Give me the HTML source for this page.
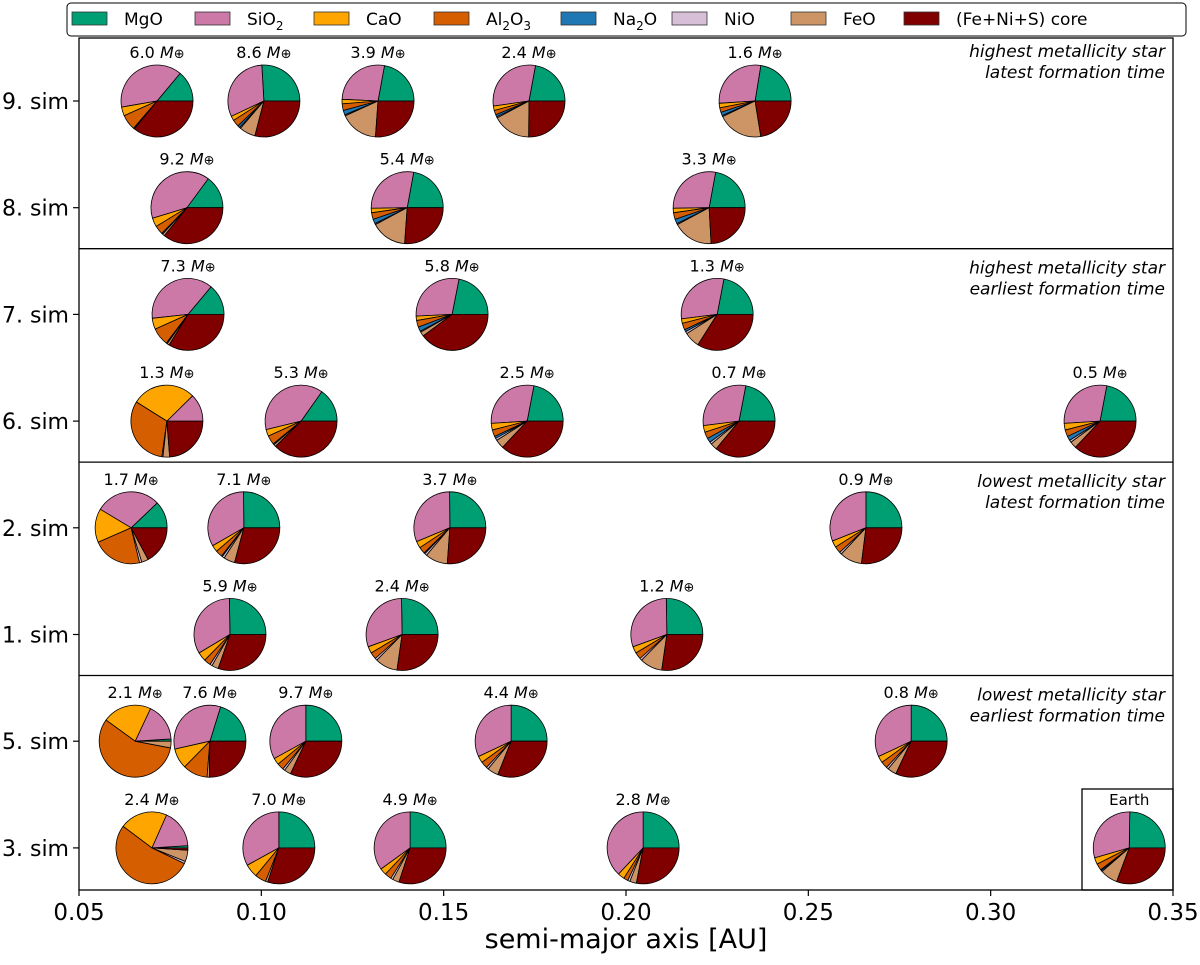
<!DOCTYPE html>
<html><head><meta charset="utf-8"><style>
body{margin:0;background:#fff;}
svg{font-family:"DejaVu Sans","Liberation Sans",sans-serif;}
</style></head><body>
<svg id="chart" width="1200" height="960" viewBox="0 0 1200 960" xmlns="http://www.w3.org/2000/svg">
<g id="plot"></g>
</svg>
<script>
const NS="http://www.w3.org/2000/svg";
const species=["MgO","SiO2","CaO","Al2O3","Na2O","NiO","FeO","core"];
const colors=["#009e73","#cc79a7","#ffa500","#d55e00","#1f77b4","#d8bfd8","#cd9466","#800000"];
const rowLabels=["9. sim","8. sim","7. sim","6. sim","2. sim","1. sim","5. sim","3. sim"];
const xTicks=[0.05,0.10,0.15,0.20,0.25,0.30,0.35];
const annotations=[["highest metallicity star","latest formation time"],["highest metallicity star","earliest formation time"],["lowest metallicity star","latest formation time"],["lowest metallicity star","earliest formation time"]];
const pRow=[0,0,0,0,0, 1,1,1, 2,2,2, 3,3,3,3,3, 4,4,4,4, 5,5,5, 6,6,6,6,6, 7,7,7,7];
const pA=[0.0714,0.1007,0.132,0.1734,0.2354, 0.0796,0.140,0.2228, 0.0799,0.1523,0.225, 0.0741,0.1109,0.1729,0.231,0.330, 0.0643,0.0952,0.1517,0.2658, 0.0914,0.1386,0.2112, 0.0654,0.0859,0.1122,0.1685,0.2782, 0.070,0.1048,0.1408,0.2047];
const pMass=["6.0","8.6","3.9","2.4","1.6","9.2","5.4","3.3","7.3","5.8","1.3","1.3","5.3","2.5","0.7","0.5","1.7","7.1","3.7","0.9","5.9","2.4","1.2","2.1","7.6","9.7","4.4","0.8","2.4","7.0","4.9","2.8"];
const pFrac=[
[.14,.39,.04,.07,.005,0,0,.36],
[.25,.30,.02,.03,.01,.005,.07,.28],
[.22,.27,.02,.03,.02,.005,.17,.26],
[.22,.30,.02,.02,.01,.005,.17,.25],
[.22,.28,.02,.02,.015,.005,.20,.22],
[.15,.40,.04,.04,.005,0,.01,.36],
[.22,.28,.02,.03,.02,.005,.16,.26],
[.22,.28,.02,.03,.02,.005,.18,.24],
[.14,.38,.05,.08,.005,0,.01,.34],
[.22,.29,.02,.03,.02,.005,.02,.40],
[.22,.30,.02,.03,.01,.01,.07,.34],
[0,.125,.29,.32,0,.005,.03,.24],
[.15,.38,.03,.04,.005,0,.01,.37],
[.22,.29,.03,.03,.01,.01,.04,.37],
[.22,.30,.03,.03,.02,.01,.03,.36],
[.22,.29,.03,.03,.02,.01,.03,.37],
[.12,.29,.15,.22,0,.01,.03,.17],
[.25,.33,.03,.03,.005,.01,.05,.29],
[.25,.31,.03,.03,.005,.01,.10,.26],
[.25,.31,.03,.03,0,.01,.10,.27],
[.25,.33,.04,.03,0,.01,.03,.30],
[.25,.30,.03,.03,0,.01,.10,.27],
[.25,.30,.03,.03,0,.01,.10,.27],
[.01,.17,.22,.57,0,0,.03,0],
[.20,.33,.09,.11,0,0,.01,.25],
[.25,.33,.03,.03,0,.01,.03,.32],
[.25,.32,.03,.03,0,.01,.05,.31],
[.25,.32,.03,.03,0,.01,.04,.32],
[.01,.17,.21,.52,0,.01,.05,.01],
[.25,.33,.06,.05,0,0,.01,.30],
[.25,.35,.03,.03,0,.01,.03,.30],
[.25,.38,.03,.02,0,.01,.03,.28]];
const earthA=0.338, earthFrac=[.25,.30,.03,.03,.005,.005,.08,.31];

const L=79,R=1173,T=38,B=890,R0=36;
const xs=a=>L+(a-0.05)/0.3*(R-L);
const ys=i=>101+i*106.7;
const g=document.getElementById('plot');
function el(tag,attrs,parent){const e=document.createElementNS(NS,tag);for(const k in attrs)e.setAttribute(k,attrs[k]);(parent||g).appendChild(e);return e;}

let fr=el('rect',{x:L,y:T,width:R-L,height:B-T,fill:'none',stroke:'#000','stroke-width':1.3});


const sepY=k=>k===0?T:ys(2*k-1)+41;
[1,2,3].forEach(k=>{
 let y=sepY(k);
 let ln=el('line',{x1:L,x2:R,y1:y,y2:y,stroke:'#000','stroke-width':1.3});
 
 
});
xTicks.forEach(t=>{
 let x=xs(t);
 let tk=el('line',{x1:x,x2:x,y1:B,y2:B+6,stroke:'#000','stroke-width':1.2});
 
 
 let tx=el('text',{x:x,y:B+30,'font-size':23,'text-anchor':'middle'});
 tx.textContent=t.toFixed(2);
 
 
});
let xl=el('text',{x:(L+R)/2,y:948,'font-size':27,'text-anchor':'middle'});
xl.textContent='semi-major axis [AU]';


rowLabels.forEach((s,i)=>{
 let y=ys(i);
 let tk=el('line',{x1:L-6,x2:L,y1:y,y2:y,stroke:'#000','stroke-width':1.2});
 
 
 let tx=el('text',{x:L-10,y:y+8,'font-size':22,'text-anchor':'end'});
 tx.textContent=s;
 
 
});
annotations.forEach((a,k)=>{
 let y0=k===0?57:sepY(k)+25;
 a.forEach((line,j)=>{
  let tx=el('text',{x:R-8,y:y0+j*21,'font-size':17,'font-style':'italic','text-anchor':'end'});
  tx.textContent=line;
  
  
 });
});
function pie(cx,cy,frac,name){
 const grp=el('g',{});
 
 
 const tot=frac.reduce((s,v)=>s+v,0);
 let ang=0;
 frac.forEach((f,k)=>{
  if(f<=0)return;
  const a0=ang, a1=ang+f/tot*2*Math.PI; ang=a1;
  const x0=cx+R0*Math.cos(a0),y0=cy-R0*Math.sin(a0),x1=cx+R0*Math.cos(a1),y1=cy-R0*Math.sin(a1);
  const large=(a1-a0)>Math.PI?1:0;
  let p=el('path',{d:`M${cx},${cy}L${x0},${y0}A${R0},${R0} 0 ${large} 0 ${x1},${y1}Z`,fill:colors[k],stroke:'#000','stroke-width':0.8,'stroke-linejoin':'round'},grp);
  
  
 });
 return grp;
}
pA.forEach((a,i)=>{
 const cx=xs(a),cy=ys(pRow[i]);
 pie(cx,cy,pFrac[i],'planet-pie');
 let tx=el('text',{x:cx,y:cy-43,'font-size':16,'text-anchor':'middle'});
 tx.innerHTML=pMass[i]+' <tspan font-style="italic">M</tspan><tspan font-size="13">⊕</tspan>';
 
 
});
let eb=el('rect',{x:1082,y:789,width:R-1082,height:B-789,fill:'none',stroke:'#000','stroke-width':1.3});


pie(xs(earthA),ys(7),earthFrac,'earth-pie');
let et=el('text',{x:xs(earthA),y:ys(7)-43,'font-size':15,'text-anchor':'middle'});
et.textContent='Earth';


const lg=el('g',{});


el('rect',{x:67,y:3,width:1119,height:33,rx:4,fill:'#fff',stroke:'#000','stroke-width':1},lg);
const legX=[72,195,314,434,561,672,791,904];
const legLabels=['MgO','SiO<tspan font-size="12" dy="5">2</tspan>','CaO','Al<tspan font-size="12" dy="5">2</tspan><tspan dy="-5">O</tspan><tspan font-size="12" dy="5">3</tspan>','Na<tspan font-size="12" dy="5">2</tspan><tspan dy="-5">O</tspan>','NiO','FeO','(Fe+Ni+S) core'];
species.forEach((s,k)=>{
 const ge=el('g',{},lg);
 
 
 el('rect',{x:legX[k],y:12,width:35,height:13,fill:colors[k],stroke:'#333','stroke-width':0.8},ge);
 const t=el('text',{x:legX[k]+52,y:25,'font-size':17},ge);
 t.innerHTML=legLabels[k];
});
</script>
</body></html>
